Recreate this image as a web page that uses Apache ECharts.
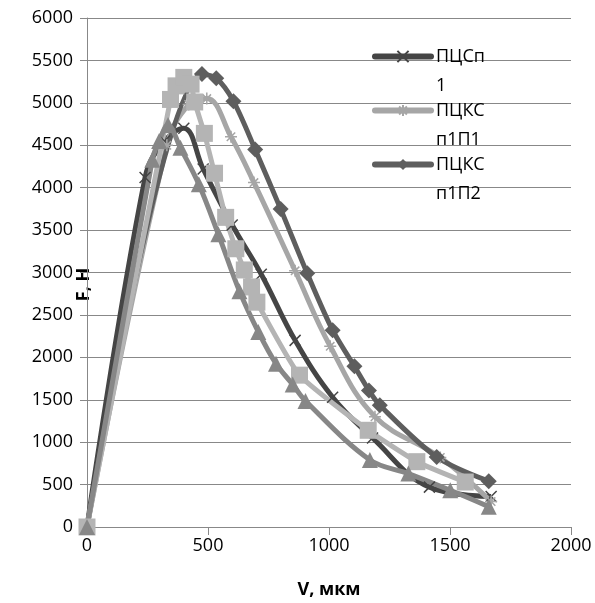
<!DOCTYPE html>
<html><head><meta charset="utf-8">
<script src="https://cdn.jsdelivr.net/npm/echarts@6/dist/echarts.min.js"></script>
<style>html,body{margin:0;padding:0;background:#fff}#c{width:595px;height:603px}</style>
</head><body><div id="c"></div>
<script>
const namesLegend = ['ПЦСп1', 'ПЦКСп1П1', 'ПЦКСп1П2'];
const xTicks = [0, 500, 1000, 1500, 2000];
const yTicks = [0, 500, 1000, 1500, 2000, 2500, 3000, 3500, 4000, 4500, 5000, 5500, 6000];

const vA = [0, 240, 320, 400, 480, 600, 720, 860, 1015, 1180, 1415, 1670];
const fA = [0, 4120, 4550, 4700, 4220, 3560, 2980, 2200, 1530, 1050, 470, 360];

const vB = [0, 330, 420, 495, 595, 690, 860, 1005, 1190, 1460, 1670];
const fB = [0, 4500, 4980, 5050, 4600, 4060, 3020, 2130, 1300, 820, 300];

const vC = [0, 475, 534, 605, 695, 800, 910, 1015, 1105, 1165, 1210, 1445, 1660];
const fC = [0, 5340, 5290, 5020, 4450, 3750, 2990, 2320, 1895, 1610, 1435, 825, 540];

const vD = [0, 345, 368, 400, 430, 445, 485, 527, 573, 615, 650, 680, 702, 878, 1162, 1363, 1563];
const fD = [0, 5040, 5200, 5300, 5220, 5010, 4640, 4170, 3650, 3280, 3030, 2830, 2650, 1790, 1140, 770, 530];

const vE = [0, 270, 298, 335, 386, 462, 543, 630, 708, 781, 850, 903, 1169, 1328, 1501, 1660];
const fE = [0, 4330, 4550, 4740, 4470, 4040, 3450, 2780, 2300, 1925, 1680, 1485, 790, 630, 433, 240];

const pairs = (v, f) => v.map((x, i) => [x, f[i]]);
const FONT = 'Open Sans';
const xSym = 'path://M0 0L10 10M10 0L0 10';
const starSym = 'path://M5 0L5 10M0 5L10 5M1.5 1.5L8.5 8.5M8.5 1.5L1.5 8.5';

const chart = echarts.init(document.getElementById('c'), null, {renderer: 'canvas'});
chart.setOption({
  animation: false,
  backgroundColor: '#fff',
  grid: {left: 87, right: 24, top: 18, bottom: 76, containLabel: false, outerBoundsMode: 'none'},
  legend: {
    data: namesLegend,
    orient: 'vertical',
    left: 372, top: 13, padding: 0,
    itemWidth: 56, itemHeight: 14, itemGap: -33,
    lineStyle: {width: 6, cap: 'round'},
    formatter: n => ' \n' + n.slice(0, 4) + '\n' + n.slice(4),
    textStyle: {fontFamily: FONT, fontSize: 18, color: '#000', lineHeight: 29}
  },
  xAxis: {
    type: 'value', min: xTicks[0], max: xTicks[xTicks.length - 1], interval: 500,
    name: 'V, мкм', nameLocation: 'middle', nameGap: 54, nameMoveOverlap: false,
    nameTextStyle: {fontFamily: FONT, fontSize: 18, fontWeight: 'bold', color: '#000'},
    axisLine: {show: true, onZero: false, lineStyle: {color: '#888', width: 1}},
    axisTick: {show: true, length: 8, lineStyle: {color: '#888'}},
    axisLabel: {fontFamily: FONT, fontSize: 18, color: '#000', margin: 10, formatter: v => String(v)},
    splitLine: {show: false}
  },
  yAxis: {
    type: 'value', min: yTicks[0], max: yTicks[yTicks.length - 1], interval: 500,
    name: 'F, H', nameLocation: 'middle', nameGap: -6, nameRotate: 90, nameMoveOverlap: false,
    nameTextStyle: {fontFamily: FONT, fontSize: 18, fontWeight: 'bold', color: '#000', padding: [0, 24, 0, 0]},
    axisLine: {show: true, lineStyle: {color: '#888', width: 1}},
    axisTick: {show: true, length: 7, lineStyle: {color: '#888'}},
    axisLabel: {fontFamily: FONT, fontSize: 18, color: '#000', margin: 14, formatter: v => String(v)},
    splitLine: {show: true, lineStyle: {color: '#888', width: 1}}
  },
  series: [
    {name: namesLegend[0], type: 'line', data: pairs(vA, fA), smooth: 0.4,
     symbol: xSym, symbolSize: 11,
     lineStyle: {color: '#454545', width: 5}, itemStyle: {color: 'rgba(0,0,0,0)', borderColor: '#454545', borderWidth: 1.5}},
    {name: namesLegend[1], type: 'line', data: pairs(vB, fB), smooth: 0.4,
     symbol: starSym, symbolSize: 12,
     lineStyle: {color: '#a6a6a6', width: 5}, itemStyle: {color: 'rgba(0,0,0,0)', borderColor: '#a6a6a6', borderWidth: 1.5}},
    {name: namesLegend[2], type: 'line', data: pairs(vC, fC), smooth: 0.3,
     symbol: 'diamond', symbolSize: 16,
     lineStyle: {color: '#5e5e5e', width: 5}, itemStyle: {color: '#5e5e5e', borderWidth: 0}},
    {name: 'ПЦКСп1П3', type: 'line', data: pairs(vD, fD), smooth: 0.15,
     symbol: 'rect', symbolSize: 17,
     lineStyle: {color: '#b4b4b4', width: 5}, itemStyle: {color: '#b4b4b4', borderWidth: 0}},
    {name: 'ПЦКСп1П4', type: 'line', data: pairs(vE, fE), smooth: 0.35,
     symbol: 'triangle', symbolSize: 16,
     lineStyle: {color: '#878787', width: 5}, itemStyle: {color: '#878787', borderWidth: 0}}
  ]
});
</script></body></html>
